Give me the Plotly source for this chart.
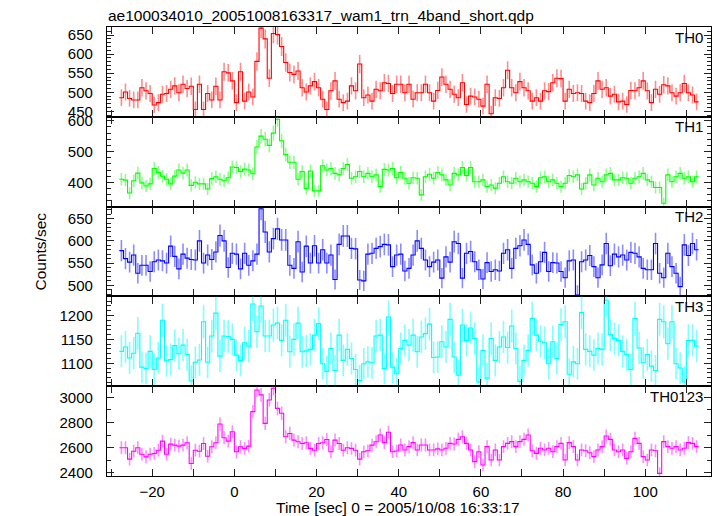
import numpy as np
import plotly.graph_objects as go

# ---------------- data (counts/sec per 1-s bin) ----------------
bin_start = -28.0
bin_width = 1.0

th0 = [486, 501, 484, 480, 480, 512, 504, 497, 467, 473,
       495, 497, 508, 517, 499, 521, 510, 516, 455, 521,
       455, 497, 480, 516, 480, 554, 551, 530, 473, 554,
       477, 501, 488, 581, 668, 640, 537, 654, 651, 620,
       578, 552, 547, 556, 512, 501, 517, 528, 512, 482,
       455, 504, 530, 482, 473, 477, 517, 504, 574,
       486, 493, 477, 508, 504, 525, 523, 497, 521, 521,
       499, 521, 482, 499, 499, 521, 499, 477, 505, 540,
       521, 508, 495, 486, 525, 468, 490, 488,
       482, 464, 521, 444, 486, 484, 512, 558, 512, 499,
       528, 512, 504, 477, 486, 477, 504, 502, 525, 537,
       536, 477, 508, 497, 499, 497, 477, 473, 497, 530,
       508, 512, 490, 495, 475, 477, 468, 505, 504, 512,
       530, 504, 473, 508, 495, 520, 517, 499, 490,
       499, 523, 499, 493, 475]

th1 = [410, 407, 365, 405, 430, 398, 388, 395, 445, 432,
       420, 410, 395, 420, 440, 430, 440, 390, 400, 395,
       395, 378, 412, 418, 410, 405, 415, 450, 448, 435,
       443, 440, 428,
       515, 550, 540, 520, 560, 605, 535, 490, 465, 465, 410, 435, 380,
       437, 372, 372, 454, 440, 445, 429, 424, 445, 458, 413, 418,
       435, 418, 429, 418, 424, 386, 442, 440, 445,
       415, 432, 413, 397, 415, 413, 359, 418, 426, 413,
       432, 424, 408, 391, 429, 424, 448, 422, 448, 402,
       402, 408, 386, 391, 381, 397, 418, 402, 397,
       413, 402, 408, 402, 397, 386, 415, 418, 402,
       408, 397, 386, 397, 422, 418, 424, 378, 397,
       424, 391, 413, 402, 424, 429, 408, 408, 415, 413,
       397, 413, 418, 429, 408, 402, 383, 383, 332, 424,
       402, 418, 429, 413, 418, 402, 418]

th2 = [578, 560, 552, 568, 527, 545, 545, 531, 553, 557,
       555, 550, 588, 565, 537, 570, 561, 558, 557, 600,
       550, 568, 558, 575, 612, 600, 540, 572, 570, 537,
       572, 545, 555, 570, 672, 620, 575, 605, 627, 602,
       602, 545, 538, 598, 530, 588,
       550, 589, 550, 580, 550, 568, 513, 592, 611, 611,
       583, 582, 512, 510, 570, 572, 583, 587, 592, 591,
       542, 568, 570, 532, 538, 568, 600, 583, 557, 542,
       552, 557, 516, 564, 552, 598, 594, 516, 572, 576,
       553, 535, 514, 551, 531, 535, 532, 572, 580, 538,
       583, 589, 602, 592, 546, 527, 553, 574, 531, 551,
       550, 531, 517, 555, 557, 478, 553, 557, 567, 542,
       517, 546, 594, 544, 570, 564, 568, 557, 574, 572,
       564, 538, 535, 535, 594, 527, 517, 572, 542, 527,
       497, 591, 567, 594, 580]

th3 = [1125, 1134, 1111, 1121, 1163, 1092, 1089, 1125, 1087, 1111,
       1190, 1105, 1108, 1137, 1120, 1138, 1118, 1063, 1102, 1107,
       1187, 1102, 1157, 1205, 1115, 1157, 1156, 1150, 1117, 1106,
       1143, 1136, 1224, 1166, 1220, 1157, 1157, 1180, 1184, 1148,
       1190, 1124, 1150, 1184, 1124, 1126,
       1129, 1159, 1183, 1099, 1083, 1131, 1085, 1159, 1106, 1129,
       1110, 1087, 1064, 1099, 1103, 1101, 1157, 1159, 1089, 1197,
       1092, 1078, 1131, 1148, 1138, 1159, 1124, 1155, 1162, 1182,
       1112, 1113, 1145, 1134, 1192, 1113, 1075, 1180, 1148, 1174,
       1152, 1061, 1127, 1069, 1152, 1106, 1134, 1155, 1133,
       1178, 1131, 1062, 1106, 1127, 1194, 1159, 1146, 1143, 1099,
       1145, 1110, 1181, 1187, 1077, 1103, 1099, 1206, 1129,
       1125, 1117, 1131, 1129, 1232, 1160, 1152, 1148, 1125,
       1118, 1087, 1194, 1132, 1101, 1118, 1094, 1085, 1192,
       1187, 1141, 1187, 1099, 1090, 1061, 1148, 1148, 1136]

th0123 = [2599, 2599, 2509, 2572, 2599, 2548, 2527, 2548, 2554, 2580,
          2652, 2548, 2628, 2620, 2612, 2620, 2639, 2474, 2580, 2572,
          2633, 2532, 2607, 2639, 2788, 2679, 2652, 2726, 2567, 2607,
          2594, 2612, 2886, 3058, 3019, 2793, 2979, 3072, 2912, 2873,
          2687, 2713, 2660, 2647, 2633, 2639, 2594, 2580, 2633, 2639,
          2665, 2567, 2660, 2633, 2580, 2599, 2594, 2580, 2509, 2567,
          2575, 2620, 2647,
          2700, 2640, 2722, 2568, 2574, 2621, 2582, 2608, 2640, 2582,
          2621, 2621, 2582, 2582, 2590, 2582, 2595, 2634, 2629, 2666,
          2687, 2634, 2582, 2489, 2568, 2462, 2608, 2502, 2582, 2502,
          2608, 2634, 2648, 2608, 2648, 2666, 2700, 2576, 2555, 2595,
          2582, 2595, 2568, 2608, 2634, 2502, 2640, 2608, 2502, 2582,
          2576, 2560, 2529, 2582, 2608, 2693, 2666, 2582, 2568, 2582,
          2515, 2568, 2674, 2634, 2529, 2502, 2582, 2575, 2396, 2648,
          2608, 2595, 2608, 2582, 2595, 2640, 2634, 2608]

panel_names = ["TH0", "TH1", "TH2", "TH3", "TH0123"]
panel_values = [th0, th1, th2, th3, th0123]
panel_colors = ["#ff0000", "#00ff00", "#0000ff", "#00ffff", "#ff00ff"]
panel_err_colors = ["rgba(255,0,0,0.45)", "rgba(0,255,0,0.45)", "rgba(0,0,255,0.45)",
                    "rgba(0,255,255,0.5)", "rgba(255,0,255,0.45)"]
panel_ranges = [[436, 671], [321, 613], [475, 677], [1052, 1240], [2375, 3088]]
panel_dtick = [50, 100, 50, 50, 200]
panel_minor = [10, 20, 10, 10, 100]

x_tickvals = [-30, -20, -10, 0, 10, 20, 30, 40, 50, 60, 70, 80, 90, 100, 110]
x_ticktext = ["", "\u221220", "", "0", "", "20", "", "40", "", "60", "", "80", "", "100", ""]
x_range = [-31, 116]

title_text = "ae100034010_20051008163317_wam1_trn_4band_short.qdp"
xlabel_text = "Time [sec] 0 = 2005/10/08 16:33:17"
ylabel_text = "Counts/sec"

# ---------------- figure ----------------
W, H = 717, 516
ML, MR, MT, MB = 107, 6, 27, 40
PW, PH = W - ML - MR, H - MT - MB
FONT = "Liberation Sans, Arial, Helvetica, sans-serif"

fig = go.Figure()
npan = len(panel_names)
layout = {}
annotations = []

for i, (name, vals, col, ecol) in enumerate(zip(panel_names, panel_values, panel_colors, panel_err_colors)):
    k = i + 1
    vals = np.asarray(vals, dtype=float)
    n = len(vals)
    centers = bin_start + bin_width * (np.arange(n) + 0.5)
    edges = np.append(centers - bin_width / 2, centers[-1] + bin_width / 2)
    step_y = np.append(vals, vals[-1])
    err = np.sqrt(vals / bin_width)
    xa = "x" if k == 1 else f"x{k}"
    ya = "y" if k == 1 else f"y{k}"
    fig.add_trace(go.Scatter(x=centers, y=vals, mode="markers",
                             marker=dict(size=1, color="rgba(0,0,0,0)"),
                             error_y=dict(type="data", array=err, visible=True,
                                          color=ecol, thickness=1.6, width=0),
                             xaxis=xa, yaxis=ya, showlegend=False, hoverinfo="skip"))
    fig.add_trace(go.Scatter(x=edges, y=step_y, mode="lines",
                             line=dict(color=col, width=1.1, shape="hv"),
                             xaxis=xa, yaxis=ya, showlegend=False))
    top = 1 - i / npan
    bot = 1 - (i + 1) / npan
    layout[f"xaxis{k}"] = dict(
        domain=[0, 1], anchor=ya, range=x_range, tickmode="array",
        tickvals=x_tickvals, ticktext=x_ticktext, ticks="inside", ticklen=7,
        tickwidth=1, tickcolor="#222", showline=True, linecolor="black", linewidth=1.2,
        mirror="allticks", showgrid=False, zeroline=False,
        showticklabels=(k == npan), tickfont=dict(family=FONT, size=15, color="black"),
        ticklabelstandoff=2,
    )
    if k > 1:
        layout[f"xaxis{k}"]["matches"] = "x"
    layout[f"yaxis{k}"] = dict(
        domain=[bot, top], anchor=xa, range=panel_ranges[i], dtick=panel_dtick[i],
        tick0=0, ticks="inside", ticklen=7, tickwidth=1, tickcolor="#222",
        minor=dict(dtick=panel_minor[i], tick0=0, ticks="inside", ticklen=4, tickcolor="#222"),
        showline=True, linecolor="black", linewidth=1.2, mirror="allticks",
        showgrid=False, zeroline=False,
        tickfont=dict(family=FONT, size=15, color="black"), ticklabelstandoff=10,
    )
    annotations.append(dict(text=name, xref="paper", yref="paper",
                            x=1 - 6 / PW, y=top - 10 / PH,
                            xanchor="right", yanchor="middle", showarrow=False,
                            font=dict(family=FONT, size=15, color="black")))

# title
annotations.append(dict(text=title_text, xref="paper", yref="paper",
                        x=-1 / PW, y=1 + 11 / PH, xanchor="left", yanchor="middle",
                        showarrow=False, font=dict(family=FONT, size=15.5, color="black")))
annotations.append(dict(text=xlabel_text, xref="paper", yref="paper",
                        x=(398 - ML) / PW, y=-(507 - (H - MB)) / PH,
                        xanchor="center", yanchor="middle", showarrow=False,
                        font=dict(family=FONT, size=15.5, color="black")))
annotations.append(dict(text=ylabel_text, xref="paper", yref="paper",
                        x=-(ML - 40) / PW, y=0.5, textangle=-90,
                        xanchor="center", yanchor="middle", showarrow=False,
                        font=dict(family=FONT, size=15.5, color="black")))

fig.update_layout(
    width=W, height=H, margin=dict(l=ML, r=MR, t=MT, b=MB),
    paper_bgcolor="white", plot_bgcolor="white",
    annotations=annotations, showlegend=False,
    **layout,
)

fig.write_html("out.html", config={"displayModeBar": False},
               post_script="document.body.style.margin='0';document.body.style.padding='0';"
                           "document.body.style.overflow='hidden';")
